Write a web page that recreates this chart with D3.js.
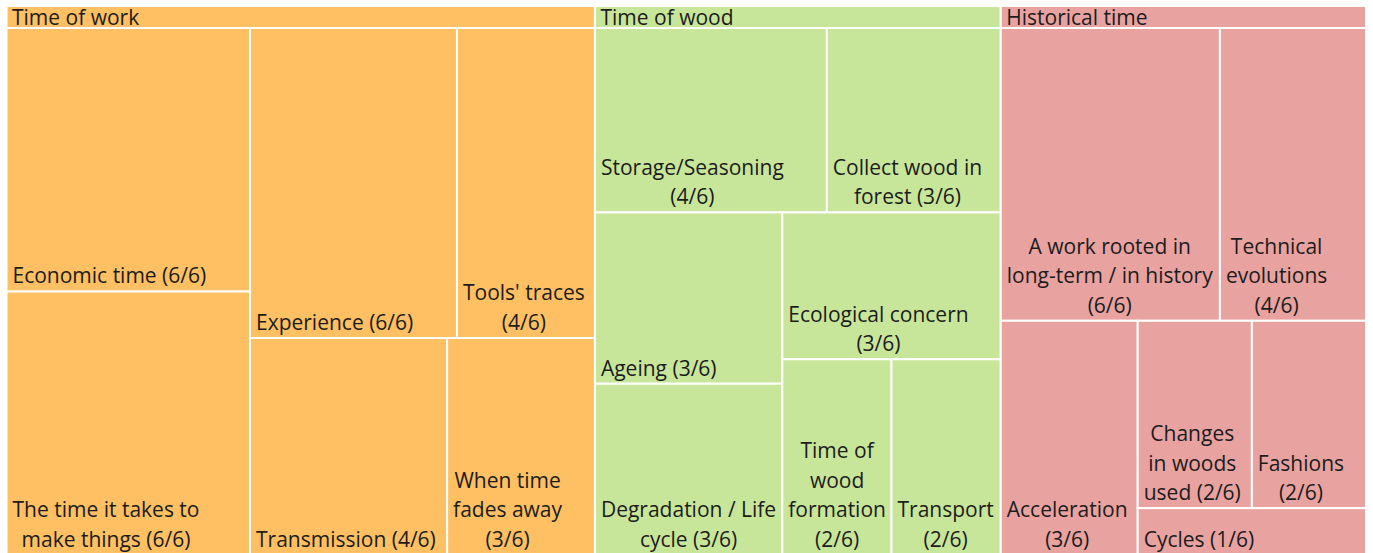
<!DOCTYPE html>
<html>
<head>
<meta charset="utf-8">
<script src="https://cdn.jsdelivr.net/npm/d3@7"></script>
<style>
  body { margin: 0; background: #ffffff; }
  svg { display: block; }
  text { font-family: "Open Sans", "Noto Sans", "DejaVu Sans", sans-serif; fill: #1c1c1c; }
</style>
</head>
<body>
<svg id="chart" width="1373" height="553"></svg>
<script>
// ---- data ----
const groups = ["Time of work", "Time of wood", "Historical time"];
const groupColors = ["#FEC062", "#C8E699", "#E8A2A0"];
const themes = [
  "Economic time", "The time it takes to make things", "Experience", "Tools' traces", "Transmission", "When time fades away",
  "Storage/Seasoning", "Collect wood in forest", "Ageing", "Degradation / Life cycle", "Ecological concern", "Time of wood formation", "Transport",
  "A work rooted in long-term / in history", "Technical evolutions", "Acceleration", "Changes in woods used", "Fashions", "Cycles"
];
const themeGroups = [
  "Time of work", "Time of work", "Time of work", "Time of work", "Time of work", "Time of work",
  "Time of wood", "Time of wood", "Time of wood", "Time of wood", "Time of wood", "Time of wood", "Time of wood",
  "Historical time", "Historical time", "Historical time", "Historical time", "Historical time", "Historical time"
];
const themeValues = [6, 6, 6, 4, 4, 3,  4, 3, 3, 3, 3, 2, 2,  6, 4, 3, 2, 2, 1];
const maxScore = 6;

// ---- layout ----
const padLeft = 6.5, padTop = 6, innerW = 1359.5, innerH = 549;
const headerH = 22;
const fontSize = 21;
const lineH = 29.5;

const svg = d3.select("#chart");

const rootData = {
  name: "root",
  children: groups.map(g => ({
    name: g,
    children: themes.map((t, i) => ({ name: t, group: themeGroups[i], value: themeValues[i] }))
                    .filter(d => d.group === g)
  }))
};

const root = d3.hierarchy(rootData)
  .sum(d => d.children ? 0 : d.value)
  .sort((a, b) => b.value - a.value);

d3.treemap()
  .tile(d3.treemapSquarify.ratio(1.11))
  .size([innerW, innerH])
  .paddingTop(d => d.depth === 1 ? headerH : 0)
  .round(false)(root);

const color = d3.scaleOrdinal().domain(groups).range(groupColors);

const chart = svg.append("g").attr("transform", `translate(${padLeft},${padTop})`);

// group rects (header band)
const grp = chart.selectAll("g.grp").data(root.children).join("g").attr("class", "grp");
grp.append("rect")
  .attr("x", d => d.x0).attr("y", d => d.y0)
  .attr("width", d => d.x1 - d.x0).attr("height", d => d.y1 - d.y0)
  .attr("fill", d => color(d.data.name))
  .attr("stroke", "#fff").attr("stroke-width", 2);
grp.append("text")
  .attr("x", d => d.x0 + 5.5)
  .attr("y", d => d.y0 + headerH / 2 + 1)
  .attr("dy", "0.35em")
  .attr("font-size", fontSize)
  .text(d => d.data.name);

// leaves
const leaves = chart.selectAll("g.leaf").data(root.leaves()).join("g").attr("class", "leaf");
leaves.append("rect")
  .attr("x", d => d.x0).attr("y", d => d.y0)
  .attr("width", d => d.x1 - d.x0).attr("height", d => d.y1 - d.y0)
  .attr("fill", d => color(d.data.group))
  .attr("stroke", "#fff").attr("stroke-width", 2);

// measuring helper
const measure = svg.append("text").attr("font-size", fontSize).attr("visibility", "hidden");
function textW(s) { measure.text(s); return measure.node().getComputedTextLength(); }

leaves.each(function (d) {
  const label = `${d.data.name} (${d.data.value}/${maxScore})`;
  const maxW = (d.x1 - d.x0) - 10;
  const words = label.split(" ");
  const lines = [];
  let cur = "";
  words.forEach(w => {
    const test = cur ? cur + " " + w : w;
    if (cur && textW(test) > maxW) { lines.push(cur); cur = w; }
    else cur = test;
  });
  if (cur) lines.push(cur);
  const blockW = d3.max(lines, l => textW(l));
  const cx = d.x0 + 6 + blockW / 2;
  const lastY = d.y1 - 15.5;
  const sel = d3.select(this);
  lines.forEach((l, i) => {
    sel.append("text")
      .attr("x", cx)
      .attr("y", lastY - (lines.length - 1 - i) * lineH)
      .attr("dy", "0.35em")
      .attr("text-anchor", "middle")
      .attr("font-size", fontSize)
      .text(l);
  });
});
measure.remove();
</script>
</body>
</html>
